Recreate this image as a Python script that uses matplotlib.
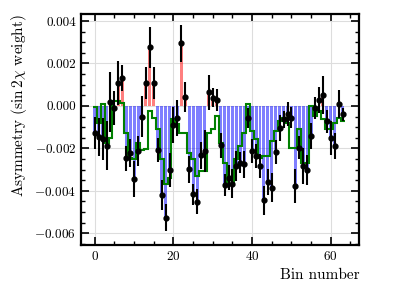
import numpy as np
import matplotlib
matplotlib.use("Agg")
import matplotlib.pyplot as plt
from matplotlib.ticker import MultipleLocator, FuncFormatter

plt.rcParams['font.family'] = 'serif'
plt.rcParams['font.serif'] = ['cmr10']
plt.rcParams['mathtext.fontset'] = 'cm'
plt.rcParams['axes.formatter.use_mathtext'] = True

# values in units of 1e-3
bins = np.arange(64)
asym = [-1.29, -1.47, -1.55, -1.88, 0.19, -0.12, 1.07, 1.30, -2.47, -2.21, -3.43, -2.13,
        -0.50, 1.07, 2.76, 1.07, -2.08, -4.20, -5.27, -3.00, -0.88, -0.59, 2.95, 0.42,
        -2.99, -4.17, -4.51, -2.33, -2.12, 0.64, 0.38, 0.28, -1.86, -3.73, -3.38, -3.66,
        -2.83, -2.67, -2.75, -0.55, -2.12, -2.36, -2.83, -4.45, -3.58, -3.85, -2.17, -1.05,
        -0.63, -0.38, -0.55, -3.77, -1.97, -2.83, -3.03, -1.42, -0.10, 0.28, 0.51, -0.72,
        -1.49, -1.89, 0.08, -0.39]
err = [0.75, 0.90, 1.00, 1.15, 1.40, 0.80, 1.05, 0.62, 0.60, 0.65, 0.85, 0.70,
       0.95, 0.75, 0.98, 0.75, 0.55, 0.70, 0.63, 0.80, 0.85, 0.85, 0.86, 0.70,
       0.63, 0.50, 0.60, 0.63, 1.00, 0.83, 0.45, 0.50, 0.60, 0.50, 0.60, 0.67,
       0.70, 0.50, 0.63, 0.47, 0.55, 0.55, 0.55, 0.67, 0.60, 0.70, 0.55, 0.60,
       0.40, 0.55, 0.50, 0.80, 0.55, 0.85, 0.70, 0.60, 0.50, 0.60, 0.90, 0.55,
       0.80, 0.60, 0.65, 0.30]
model = [-0.05, -0.79, 0.08, -1.73, -1.50, 0.24, 0.24, 0.16, -1.26, -2.44, -2.50, -1.73,
         -2.10, -2.04, -0.24, -0.55, -1.10, -2.50, -3.70, -3.40, -0.63, -0.86, -1.26, -1.26,
         -2.20, -2.50, -3.30, -3.07, -3.07, -1.26, -1.10, -0.47, -1.73, -2.67, -3.74, -3.74,
         -2.50, -1.90, -1.26, 0.08, -1.18, -1.57, -2.44, -2.36, -2.36, -1.65, -1.18, -0.70,
         -0.55, -0.79, -1.97, -1.97, -1.10, -2.67, -2.67, 0.00, -0.47, -0.24, -0.63, -1.10,
         -1.10, -0.79, -0.55, -0.70]

asym = np.array(asym) * 1e-3
err = np.array(err) * 1e-3
model = np.array(model) * 1e-3

fig = plt.figure(figsize=(3.99, 2.99), dpi=100)
ax = fig.add_axes([0.203, 0.181, 0.698, 0.772])

colors = np.where(asym < 0, 'blue', 'red')
ax.bar(bins, asym, width=0.75, color=colors, alpha=0.5, linewidth=0, zorder=2)
ax.stairs(model, np.arange(65) - 0.5, baseline=None, color='green', linewidth=1.5, zorder=3)
ax.errorbar(bins, asym, yerr=err, fmt='o', color='black', markersize=3.5,
            elinewidth=1.5, capsize=0, zorder=4)

ax.set_xlim(-3.5, 67.3)
ax.set_ylim(-0.00655, 0.00433)
ax.xaxis.set_major_locator(MultipleLocator(20))
ax.xaxis.set_minor_locator(MultipleLocator(5))
ax.yaxis.set_major_locator(MultipleLocator(0.002))
ax.yaxis.set_minor_locator(MultipleLocator(0.0005))
ax.yaxis.set_major_formatter(FuncFormatter(
    lambda v, p: ('$-$' if v < -1e-12 else '') + f'{abs(v):.3f}'))
ax.tick_params(which='both', direction='in', top=True, right=True, labelsize=9.5)
ax.tick_params(which='major', length=6, width=1.2)
ax.tick_params(which='minor', length=3, width=1.0)
for s in ax.spines.values():
    s.set_linewidth(1.6)
ax.grid(True, which='major', color='#dddddd', linewidth=0.8, zorder=0)
ax.set_axisbelow(True)

ax.set_xlabel('Bin number', loc='right', fontsize=11)
ax.set_ylabel(r'Asymmetry ($\sin 2\chi$ weight)', loc='top', fontsize=11)

fig.savefig('out.png', dpi=100)
